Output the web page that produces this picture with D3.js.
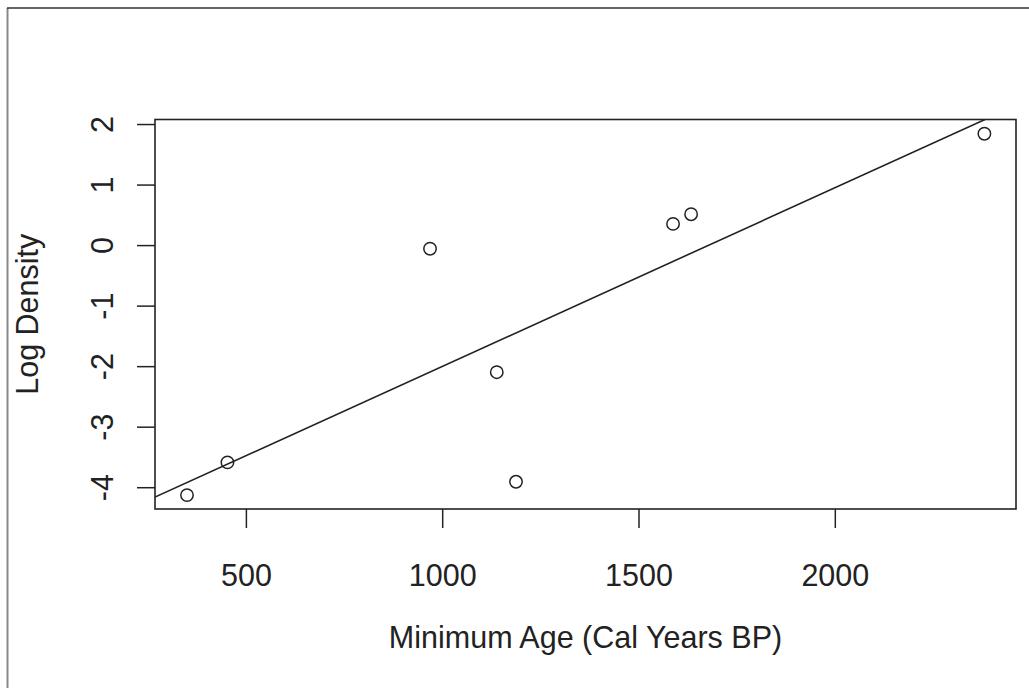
<!DOCTYPE html>
<html>
<head>
<meta charset="utf-8">
<script src="https://cdn.jsdelivr.net/npm/d3@7"></script>
<style>
  body { margin: 0; background: #fff; }
  svg text { font-family: "Liberation Sans", Arial, Helvetica, sans-serif; fill: #222; }
</style>
</head>
<body>
<svg width="1029" height="688"></svg>
<script>
const W = 1029, H = 688;

// data
const ages = [350, 453, 969, 1139, 1188, 1588, 1634, 2381];
const logDensity = [-4.13, -3.59, -0.06, -2.10, -3.91, 0.35, 0.51, 1.84];
const fitCoef = [-4.956, 0.002951]; // intercept, slope
const xTicks = [500, 1000, 1500, 2000];
const yTicks = [-4, -3, -2, -1, 0, 1, 2];
const xTitle = "Minimum Age (Cal Years BP)";
const yTitle = "Log Density";

const box = {left: 155, right: 1016, top: 119.5, bottom: 509};

const svg = d3.select("svg");

// outer frame (only left and top edges visible)
svg.append("line")
  .attr("x1", 7.5).attr("y1", 8).attr("x2", 7.5).attr("y2", H)
  .attr("stroke", "#888").attr("stroke-width", 2);
svg.append("line")
  .attr("x1", 7).attr("y1", 8).attr("x2", W).attr("y2", 8)
  .attr("stroke", "#333").attr("stroke-width", 1.5);

const x = d3.scaleLinear().domain([268.5, 2461.5]).range([box.left, box.right]);
const y = d3.scaleLinear().domain([-4.36, 2.075]).range([box.bottom, box.top]);

const fontSize = 30.5;
const fmt = d => String(d); // plain hyphen minus like R

// x axis
const xAxis = svg.append("g")
  .attr("transform", `translate(0,${box.bottom})`)
  .call(d3.axisBottom(x).tickValues(xTicks).tickSize(19).tickPadding(0).tickFormat(fmt));
xAxis.select(".domain").remove();
xAxis.selectAll("line").attr("stroke", "#222").attr("stroke-width", 1.5);
xAxis.selectAll("text")
  .attr("y", 77).attr("dy", null)
  .style("font-size", fontSize + "px");

// y axis
const yAxis = svg.append("g")
  .attr("transform", `translate(${box.left},0)`)
  .call(d3.axisLeft(y).tickValues(yTicks).tickSize(18).tickFormat(fmt));
yAxis.select(".domain").remove();
yAxis.selectAll("line").attr("stroke", "#222").attr("stroke-width", 1.5);
yAxis.selectAll("text")
  .attr("x", null).attr("dy", null)
  .attr("text-anchor", "middle")
  .attr("transform", "translate(-42,0) rotate(-90)")
  .style("font-size", fontSize + "px");

// plot box
svg.append("rect")
  .attr("x", box.left).attr("y", box.top)
  .attr("width", box.right - box.left).attr("height", box.bottom - box.top)
  .attr("fill", "none").attr("stroke", "#222").attr("stroke-width", 1.6);

// regression line, clipped to plot region
svg.append("clipPath").attr("id", "plotclip")
  .append("rect")
  .attr("x", box.left).attr("y", box.top)
  .attr("width", box.right - box.left).attr("height", box.bottom - box.top);

const xs = x.domain();
svg.append("line")
  .attr("clip-path", "url(#plotclip)")
  .attr("x1", x(xs[0])).attr("y1", y(fitCoef[0] + fitCoef[1] * xs[0]))
  .attr("x2", x(xs[1])).attr("y2", y(fitCoef[0] + fitCoef[1] * xs[1]))
  .attr("stroke", "#222").attr("stroke-width", 1.6);

// points
svg.append("g")
  .selectAll("circle")
  .data(ages.map((a, i) => ({age: a, val: logDensity[i]})))
  .join("circle")
  .attr("cx", d => x(d.age))
  .attr("cy", d => y(d.val))
  .attr("r", 6.2)
  .attr("fill", "none")
  .attr("stroke", "#222")
  .attr("stroke-width", 1.5);

// titles
svg.append("text")
  .text(xTitle)
  .attr("x", (box.left + box.right) / 2)
  .attr("y", 648)
  .attr("text-anchor", "middle")
  .style("font-size", fontSize + "px");

svg.append("text")
  .text(yTitle)
  .attr("text-anchor", "middle")
  .attr("transform", `translate(38,${(box.top + box.bottom) / 2}) rotate(-90)`)
  .style("font-size", fontSize + "px");
</script>
</body>
</html>
